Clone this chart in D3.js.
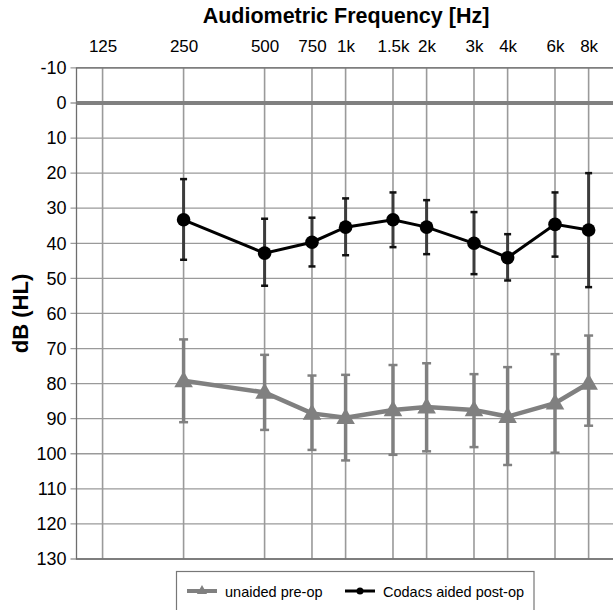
<!DOCTYPE html>
<html>
<head>
<meta charset="utf-8">
<script src="https://cdn.jsdelivr.net/npm/d3@7"></script>
<style>
  html, body { margin: 0; padding: 0; background: #fff; }
  svg { display: block; font-family: "Liberation Sans", Arial, Helvetica, sans-serif; }
</style>
</head>
<body>
<svg id="chart" width="613" height="610"></svg>
<script>
// Audiogram frequencies and their tick labels
const freqs = [125, 250, 500, 750, 1000, 1500, 2000, 3000, 4000, 6000, 8000];
const freqLabels = ["125", "250", "500", "750", "1k", "1.5k", "2k", "3k", "4k", "6k", "8k"];
const dbTicks = [-10, 0, 10, 20, 30, 40, 50, 60, 70, 80, 90, 100, 110, 120, 130];

// Frequencies that were measured (125 Hz was not)
const measuredFreqs = [250, 500, 750, 1000, 1500, 2000, 3000, 4000, 6000, 8000];

// Unaided pre-op thresholds (dB HL) with error bar ends
const preopMean = [79.2, 82.5, 88.5, 89.7, 87.5, 86.7, 87.5, 89.4, 85.6, 79.9];
const preopUpper = [67.4, 71.8, 77.7, 77.5, 74.7, 74.2, 77.3, 75.3, 71.6, 66.3];
const preopLower = [91.0, 93.2, 98.9, 101.9, 100.3, 99.3, 98.1, 103.2, 99.7, 92.0];

// Codacs aided post-op thresholds (dB HL) with error bar ends
const postopMean = [33.3, 42.8, 39.7, 35.4, 33.3, 35.4, 40.0, 44.1, 34.6, 36.2];
const postopUpper = [21.7, 33.0, 32.7, 27.2, 25.5, 27.7, 31.1, 37.4, 25.5, 20.0];
const postopLower = [44.7, 52.1, 46.6, 43.4, 41.1, 43.1, 48.8, 50.6, 43.8, 52.5];

const seriesNames = ["unaided pre-op", "Codacs aided post-op"];

const svg = d3.select("#chart");
const plotL = 76.5, plotR = 614.7, plotT = 67.9, plotB = 559;

const x = d3.scaleLog().domain([100, 10000]).range([plotL, plotR]);
const y = d3.scaleLinear().domain([-10, 130]).range([plotT, plotB]);

const gridColor = "#9a9a9a";

// Horizontal grid lines (with short tick stubs left of the frame)
svg.append("g").selectAll("line").data(dbTicks).join("line")
  .attr("x1", plotL - 6).attr("x2", plotR)
  .attr("y1", d => y(d)).attr("y2", d => y(d))
  .attr("stroke", gridColor).attr("stroke-width", 1.3);

// Vertical grid lines
svg.append("g").selectAll("line").data(freqs).join("line")
  .attr("x1", d => x(d)).attr("x2", d => x(d))
  .attr("y1", plotT).attr("y2", plotB)
  .attr("stroke", gridColor).attr("stroke-width", 1.6);

// Plot frame (left, top, bottom)
svg.append("path")
  .attr("d", `M${plotR},${plotT}H${plotL}V${plotB}H${plotR}`)
  .attr("fill", "none").attr("stroke", "#6e6e6e").attr("stroke-width", 1.3);

// Thick 0 dB reference line
svg.append("line")
  .attr("x1", plotL).attr("x2", plotR)
  .attr("y1", y(0)).attr("y2", y(0))
  .attr("stroke", "#808080").attr("stroke-width", 4);

// Left axis labels (plain hyphen for negatives)
const yAxis = d3.axisLeft(y).tickValues(dbTicks).tickFormat(d => String(d)).tickSize(0).tickPadding(10);
const gy = svg.append("g").attr("transform", `translate(${plotL},0)`).call(yAxis);
gy.select(".domain").remove();
gy.selectAll("text").attr("font-size", 18).attr("fill", "#000")
  .attr("font-family", "Liberation Sans, Arial, sans-serif");

// Top frequency labels
const xAxis = d3.axisTop(x).tickValues(freqs).tickFormat((d, i) => freqLabels[i]).tickSize(0);
const gx = svg.append("g").attr("transform", `translate(0,55)`).call(xAxis);
gx.select(".domain").remove();
gx.selectAll("text").attr("font-size", 17).attr("fill", "#000").attr("dy", 0)
  .attr("font-family", "Liberation Sans, Arial, sans-serif");

// Titles
svg.append("text").attr("x", 346).attr("y", 23).attr("text-anchor", "middle")
  .attr("font-size", 21.5).attr("font-weight", "bold").text("Audiometric Frequency [Hz]");
svg.append("text").attr("transform", `translate(27.5,${(plotT + plotB) / 2}) rotate(-90)`)
  .attr("text-anchor", "middle").attr("font-size", 22).attr("font-weight", "bold").text("dB (HL)");

const pre = measuredFreqs.map((f, i) => ({ f, m: preopMean[i], hi: preopUpper[i], lo: preopLower[i] }));
const post = measuredFreqs.map((f, i) => ({ f, m: postopMean[i], hi: postopUpper[i], lo: postopLower[i] }));

// Pre-op series (grey, triangles)
const grey = "#808080";
const gPre = svg.append("g");
gPre.selectAll("line.bar").data(pre).join("line").attr("class", "bar")
  .attr("x1", d => x(d.f)).attr("x2", d => x(d.f))
  .attr("y1", d => y(d.hi)).attr("y2", d => y(d.lo))
  .attr("stroke", grey).attr("stroke-width", 3.5);
["hi", "lo"].forEach(k => {
  gPre.selectAll("line.cap" + k).data(pre).join("line").attr("class", "cap" + k)
    .attr("x1", d => x(d.f) - 4.5).attr("x2", d => x(d.f) + 4.5)
    .attr("y1", d => y(d[k])).attr("y2", d => y(d[k]))
    .attr("stroke", grey).attr("stroke-width", 2.5);
});
gPre.append("path").datum(pre)
  .attr("d", d3.line().x(d => x(d.f)).y(d => y(d.m)))
  .attr("fill", "none").attr("stroke", grey).attr("stroke-width", 4.5);
const tri = d3.symbol().type(d3.symbolTriangle).size(150);
gPre.selectAll("path.mk").data(pre).join("path").attr("class", "mk")
  .attr("d", tri).attr("transform", d => `translate(${x(d.f)},${y(d.m) + 1})`)
  .attr("fill", grey);

// Post-op series (black, circles)
const gPost = svg.append("g");
gPost.selectAll("line.bar").data(post).join("line").attr("class", "bar")
  .attr("x1", d => x(d.f)).attr("x2", d => x(d.f))
  .attr("y1", d => y(d.hi)).attr("y2", d => y(d.lo))
  .attr("stroke", "#3c3c3c").attr("stroke-width", 3);
["hi", "lo"].forEach(k => {
  gPost.selectAll("line.cap" + k).data(post).join("line").attr("class", "cap" + k)
    .attr("x1", d => x(d.f) - 3.5).attr("x2", d => x(d.f) + 3.5)
    .attr("y1", d => y(d[k])).attr("y2", d => y(d[k]))
    .attr("stroke", "#111").attr("stroke-width", 2.5);
});
gPost.append("path").datum(post)
  .attr("d", d3.line().x(d => x(d.f)).y(d => y(d.m)))
  .attr("fill", "none").attr("stroke", "#000").attr("stroke-width", 3);
gPost.selectAll("circle").data(post).join("circle")
  .attr("cx", d => x(d.f)).attr("cy", d => y(d.m)).attr("r", 6.8).attr("fill", "#000");

// Legend
const lg = svg.append("g");
lg.append("rect").attr("x", 176.5).attr("y", 571.5).attr("width", 357.5).attr("height", 50)
  .attr("fill", "#fff").attr("stroke", "#777").attr("stroke-width", 1.2);
lg.append("line").attr("x1", 187).attr("x2", 217).attr("y1", 591).attr("y2", 591)
  .attr("stroke", grey).attr("stroke-width", 4);
lg.append("path").attr("d", d3.symbol().type(d3.symbolTriangle).size(45))
  .attr("transform", "translate(202,591)").attr("fill", grey);
lg.append("text").attr("x", 225).attr("y", 596.5).attr("font-size", 14.5).text(seriesNames[0]);
lg.append("line").attr("x1", 345).attr("x2", 375).attr("y1", 591).attr("y2", 591)
  .attr("stroke", "#000").attr("stroke-width", 3);
lg.append("circle").attr("cx", 360).attr("cy", 591).attr("r", 3.5).attr("fill", "#000");
lg.append("text").attr("x", 383).attr("y", 596.5).attr("font-size", 14.5).text(seriesNames[1]);
</script>
</body>
</html>
